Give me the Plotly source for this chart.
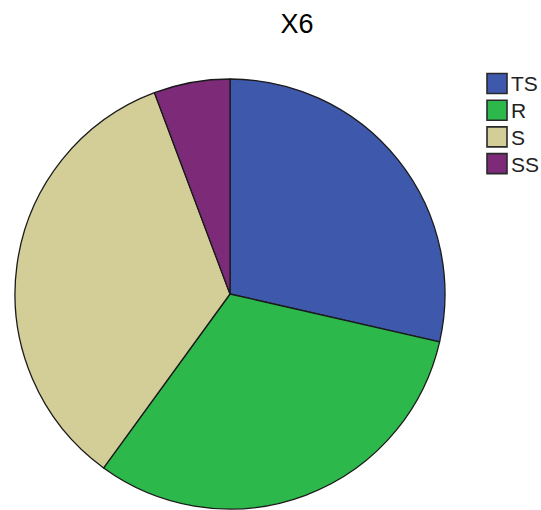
import plotly.graph_objects as go

# Category counts for X6
categories = ["TS", "R", "S", "SS"]
counts = [10, 11, 12, 2]
colors = ["#3E58AC", "#2DB84B", "#D3CE97", "#7D2A79"]

W, H = 541, 510

fig = go.Figure(
    go.Pie(
        labels=categories,
        values=counts,
        sort=False,
        direction="clockwise",
        rotation=0,
        marker=dict(colors=colors, line=dict(color="#1a1a1a", width=1.3)),
        textinfo="none",
        hoverinfo="label+value+percent",
        showlegend=False,
        domain=dict(x=[14 / W, 446 / W], y=[1 - 509 / H, 1 - 79 / H]),
    )
)

# Legend: a swatch and label per category, stacked top to bottom
sw_x0, sw_size, row_top, row_step = 487, 20, 73.5, 26.7
shapes, annotations = [], []
for i, (name, col) in enumerate(zip(categories, colors)):
    top = row_top + i * row_step
    shapes.append(dict(
        type="rect", xref="paper", yref="paper",
        x0=sw_x0 / W, x1=(sw_x0 + sw_size) / W,
        y0=1 - (top + sw_size) / H, y1=1 - top / H,
        fillcolor=col, line=dict(color="#2a2a2a", width=1.6),
    ))
    annotations.append(dict(
        text=name, xref="paper", yref="paper",
        x=(sw_x0 + sw_size + 2) / W, xanchor="left",
        y=1 - (top + sw_size / 2 + 0.5) / H, yanchor="middle",
        showarrow=False, font=dict(size=21, color="#222222"),
    ))

fig.update_layout(
    width=W,
    height=H,
    margin=dict(l=0, r=0, t=0, b=0),
    paper_bgcolor="white",
    plot_bgcolor="white",
    font=dict(family="Liberation Sans, Arial, sans-serif", color="#111111"),
    title=dict(
        text="X6",
        x=297 / W,
        xanchor="center",
        y=1 - 24 / H,
        yanchor="middle",
        font=dict(size=27, color="#000000"),
    ),
    shapes=shapes,
    annotations=annotations,
    showlegend=False,
)

fig.write_html("out.html")
